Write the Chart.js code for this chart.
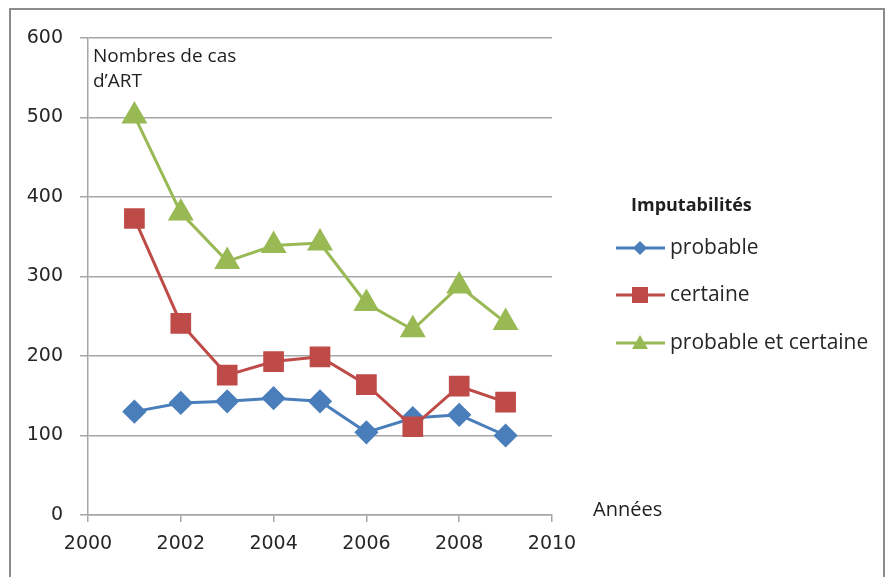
<!DOCTYPE html>
<html>
<head>
<meta charset="UTF-8">
<title>Nombres de cas d'ART</title>
<script src="https://cdn.jsdelivr.net/npm/chart.js@4"></script>
<style>
  body { margin: 0; background: #fff; }
  #wrap { width: 888px; height: 577px; }
</style>
</head>
<body>
<div id="wrap"><canvas id="myChart" width="888" height="577"></canvas></div>
<script>
var years = [2001, 2002, 2003, 2004, 2005, 2006, 2007, 2008, 2009];
var probable = [130, 141, 143, 147, 143, 104, 122, 126, 100];
var certaine = [373, 241, 176, 193, 199, 164, 111, 162, 142];
var probableEtCertaine = [502, 380, 319, 339, 342, 266, 233, 288, 242];
var seriesNames = ['probable', 'certaine', 'probable et certaine'];
var legendTitle = 'Imputabilités';
var yTitle = ['Nombres de cas', 'd\u2019ART'];
var xTitle = 'Années';

var FONT = '"Open Sans", sans-serif';
var TICKFONT = '"DejaVu Sans", sans-serif';

function pts(vals) {
    return vals.map(function (v, i) { return { x: years[i], y: v }; });
}

// frame, axis titles and legend drawn like the office chart
var decor = {
    id: 'decor',
    beforeDraw: function (chart) {
        var c = chart.ctx;
        c.save();
        c.fillStyle = '#fff';
        c.fillRect(0, 0, chart.width, chart.height);
        c.strokeStyle = '#8c8c8c';
        c.lineWidth = 2;
        c.strokeRect(10, 9, 874, 600);
        c.restore();
    },
    afterDraw: function (chart) {
        var c = chart.ctx;
        c.save();
        c.fillStyle = '#1f1f1f';
        c.font = '19px ' + FONT;
        c.textBaseline = 'middle';
        c.fillText(yTitle[0], 93, 57);
        c.fillText(yTitle[1], 93, 82);
        c.font = '20px ' + FONT;
        c.fillText(xTitle, 593, 510);

        c.font = 'bold 18px ' + FONT;
        c.fillText(legendTitle, 631, 206);

        var ys = [248, 295, 343];
        chart.data.datasets.forEach(function (ds, i) {
            var y = ys[i];
            c.strokeStyle = ds.borderColor;
            c.lineWidth = 3;
            c.beginPath();
            c.moveTo(616, y);
            c.lineTo(665, y);
            c.stroke();
            c.fillStyle = ds.backgroundColor;
            var cx = 640;
            c.beginPath();
            if (ds.pointStyle === 'rectRot') {
                c.moveTo(cx, y - 7); c.lineTo(cx + 7, y); c.lineTo(cx, y + 7); c.lineTo(cx - 7, y);
            } else if (ds.pointStyle === 'rect') {
                c.rect(cx - 8, y - 8, 16, 16);
            } else {
                c.moveTo(cx, y - 8); c.lineTo(cx + 8, y + 6); c.lineTo(cx - 8, y + 6);
            }
            c.closePath();
            c.fill();
            c.fillStyle = '#262626';
            c.font = '21px ' + FONT;
            c.fillText(ds.label, 670, y);
        });
        c.restore();
    }
};

new Chart(document.getElementById('myChart'), {
    type: 'line',
    data: {
        datasets: [
            {
                label: seriesNames[0], data: pts(probable), order: 2,
                borderColor: '#4a7ebb', backgroundColor: '#4a7ebb',
                borderWidth: 3, pointStyle: 'rectRot', pointRadius: 10, pointHoverRadius: 10
            },
            {
                label: seriesNames[1], data: pts(certaine), order: 1,
                borderColor: '#be4b48', backgroundColor: '#be4b48',
                borderWidth: 3, pointStyle: 'rect', pointRadius: 12.5, pointHoverRadius: 12.5
            },
            {
                label: seriesNames[2], data: pts(probableEtCertaine), order: 0,
                borderColor: '#98b954', backgroundColor: '#98b954',
                borderWidth: 3, pointStyle: 'triangle', pointRadius: 12, pointHoverRadius: 12
            }
        ]
    },
    options: {
        responsive: false,
        animation: false,
        layout: { padding: { left: 0, right: 336, top: 38, bottom: 0 } },
        plugins: { legend: { display: false }, tooltip: { enabled: false } },
        scales: {
            x: {
                type: 'linear', min: 2000, max: 2010,
                ticks: {
                    stepSize: 2, color: '#262626', font: { family: TICKFONT, size: 19 }, padding: 11,
                    callback: function (v) { return String(v); }
                },
                grid: { drawOnChartArea: false, drawTicks: true, tickLength: 7, color: '#a6a6a6', lineWidth: 1.5 },
                border: { color: '#a6a6a6', width: 1.5 },
                afterFit: function (s) { s.height = 62; }
            },
            y: {
                min: 0, max: 600,
                ticks: { stepSize: 100, color: '#262626', font: { family: TICKFONT, size: 19 }, padding: 17 },
                grid: { color: '#a6a6a6', lineWidth: 1.5, tickLength: 8 },
                border: { color: '#a6a6a6', width: 1.5 },
                afterFit: function (s) { s.width = 88; }
            }
        }
    },
    plugins: [decor]
});
</script>
</body>
</html>
